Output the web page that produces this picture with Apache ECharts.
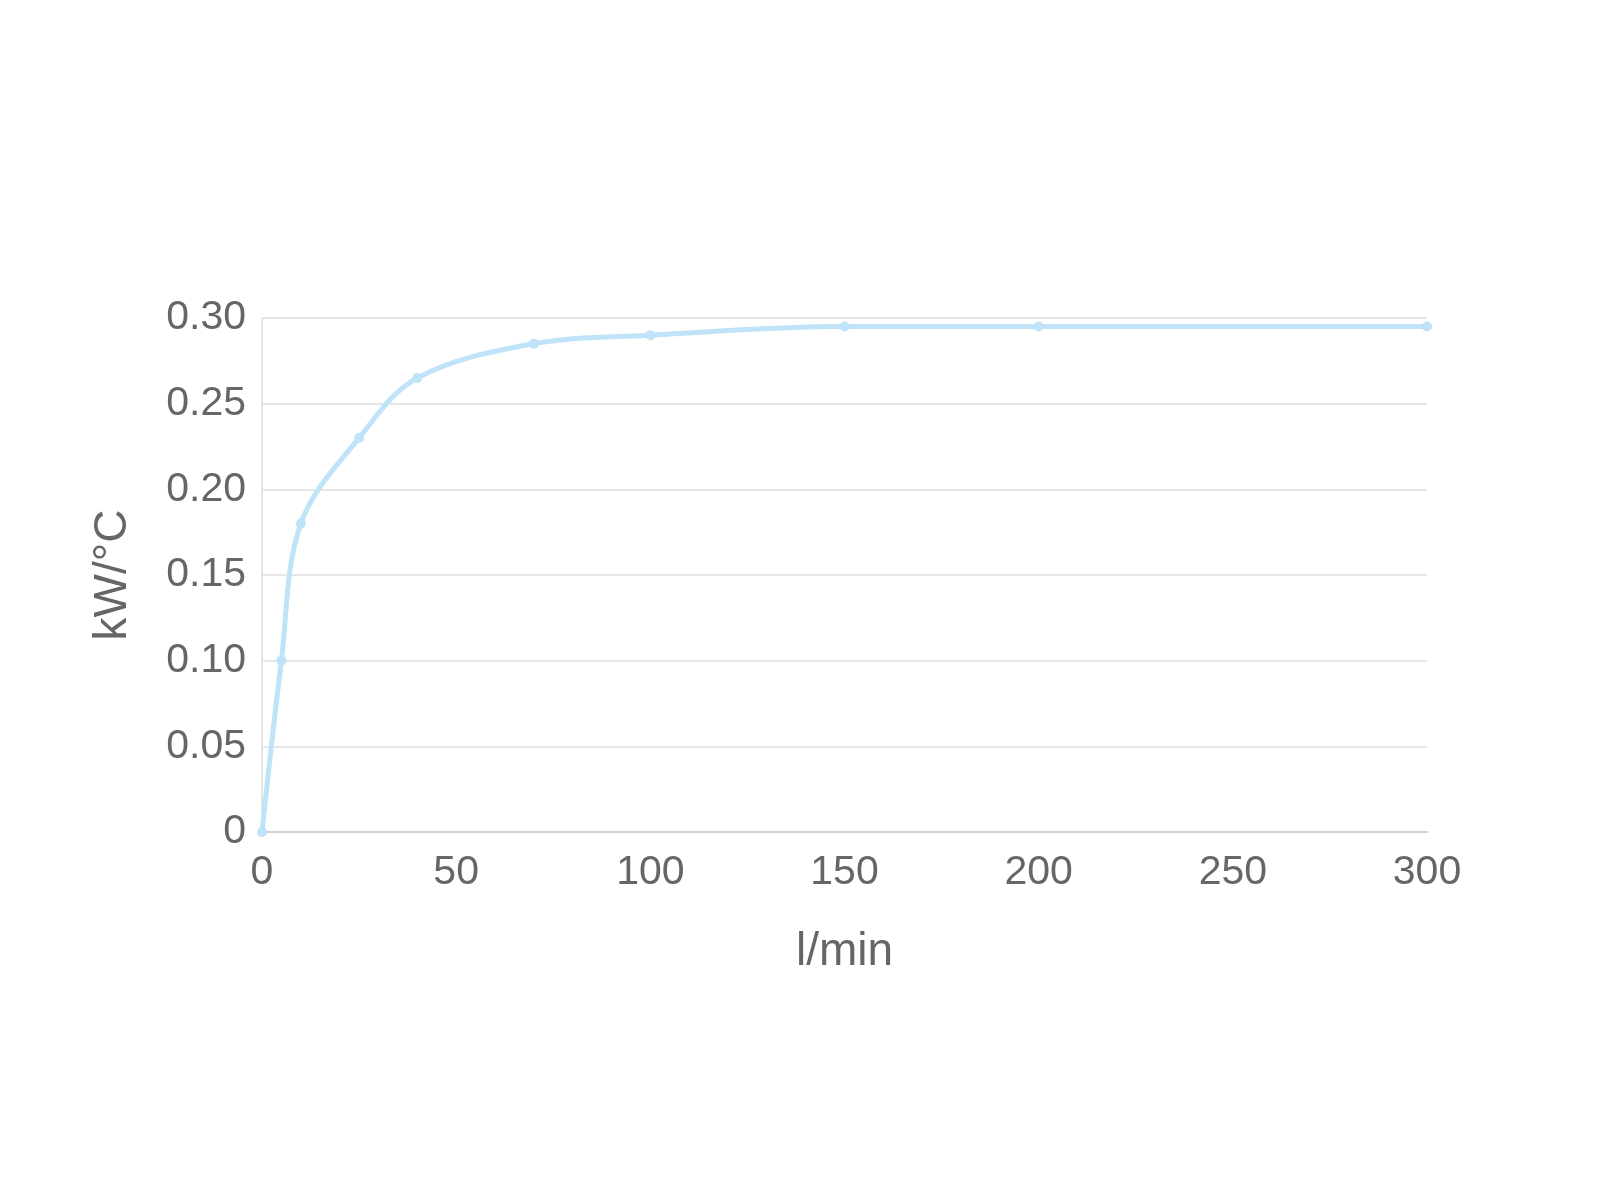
<!DOCTYPE html>
<html>
<head>
<meta charset="utf-8">
<script src="https://cdn.jsdelivr.net/npm/echarts@6/dist/echarts.min.js"></script>
<style>
  html, body { margin: 0; padding: 0; background: #fff; }
  #chart { width: 1600px; height: 1200px; }
</style>
</head>
<body>
<div id="chart"></div>
<script>
// flow rate (l/min) vs heat transfer (kW/°C)
const flowRates = [0, 5, 10, 25, 40, 70, 100, 150, 200, 300];
const kwPerC = [0, 0.10, 0.18, 0.23, 0.265, 0.285, 0.29, 0.295, 0.295, 0.295];
const xName = 'l/min';
const yName = 'kW/°C';

const points = flowRates.map((x, i) => [x, kwPerC[i]]);

const chart = echarts.init(document.getElementById('chart'));
const option = {
  animation: false,
  textStyle: { fontFamily: 'Liberation Sans, Arial, sans-serif' },
  grid: { left: 262, right: 173, top: 318, bottom: 368 },
  xAxis: {
    type: 'value',
    min: 0,
    max: 300,
    interval: 50,
    name: xName,
    nameLocation: 'middle',
    nameGap: 97,
    nameTextStyle: { fontSize: 46, color: '#666' },
    axisLine: { show: true, lineStyle: { color: '#d0d0d0', width: 2 } },
    axisTick: { show: false },
    splitLine: { show: false },
    axisLabel: { fontSize: 41, color: '#666', margin: 20 }
  },
  yAxis: {
    type: 'value',
    min: 0,
    max: 0.3,
    interval: 0.05,
    name: yName,
    nameLocation: 'middle',
    nameGap: 126,
    nameTextStyle: { fontSize: 46, color: '#666' },
    axisLine: { show: true, lineStyle: { color: '#e6e6e6', width: 2 } },
    axisTick: { show: false },
    splitLine: { lineStyle: { color: '#e6e6e6', width: 2 } },
    axisLabel: {
      fontSize: 41,
      color: '#666',
      margin: 16,
      formatter: v => (v === 0 ? '0' : v.toFixed(2))
    }
  },
  series: [{
    type: 'line',
    data: points,
    smooth: 0.35,
    symbol: 'circle',
    symbolSize: 10,
    showAllSymbol: true,
    clip: false,
    lineStyle: { color: '#bfe3f8', width: 5 },
    itemStyle: { color: '#bfe3f8' }
  }]
};
chart.setOption(option);
</script>
</body>
</html>
